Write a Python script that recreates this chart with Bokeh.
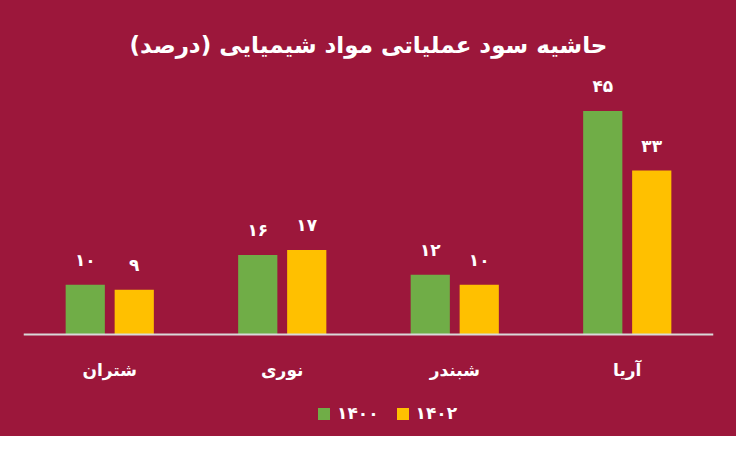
from bokeh.plotting import figure
from bokeh.models import ColumnDataSource, FactorRange, Legend, LegendItem, Title
from bokeh.transform import dodge
from bokeh.core.properties import value
from bokeh.embed import file_html
from bokeh.resources import INLINE

categories = ["شتران", "نوری", "شبندر", "آریا"]
series_names = ["۱۴۰۰", "۱۴۰۲"]
values_1400 = [10, 16, 12, 45]
values_1402 = [9, 17, 10, 33]
title_text = "حاشیه سود عملیاتی مواد شیمیایی (درصد)"

BG = "#9C173B"
GREEN = "#70AD47"
GOLD = "#FFC000"
FONT = "DejaVu Sans"

fa = str.maketrans("0123456789", "۰۱۲۳۴۵۶۷۸۹")
def fa_num(v):
    return str(v).translate(fa)

src = ColumnDataSource(dict(
    cat=categories,
    v1=values_1400,
    v2=values_1402,
    l1=[fa_num(v) for v in values_1400],
    l2=[fa_num(v) for v in values_1402],
))

p = figure(width=736, height=436, output_backend="svg", toolbar_location=None,
           x_range=FactorRange(*categories, range_padding=0), y_range=(-20.6, 55.8),
           min_border_left=23, min_border_right=23, min_border_top=57, min_border_bottom=0)
p.styles = {"background-color": BG}
p.background_fill_alpha = 0
p.border_fill_alpha = 0
p.outline_line_color = None
p.grid.grid_line_color = None
p.yaxis.visible = False

p.title = Title(text=title_text, align="center", text_font_size="23px",
                text_color="white", text_font=FONT, text_font_style="bold",
                offset=0, standoff=0)

off = 0.142
w = 40 / 176
r1 = p.vbar(x=dodge("cat", -off, range=p.x_range), top="v1", width=w, source=src,
            fill_color=GREEN, line_color=None)
r2 = p.vbar(x=dodge("cat", off, range=p.x_range), top="v2", width=w, source=src,
            fill_color=GOLD, line_color=None)

for col, lab, o in (("v1", "l1", -off), ("v2", "l2", off)):
    p.text(x=dodge("cat", o, range=p.x_range), y=col, text=lab, source=src,
           text_align="center", text_baseline="middle", y_offset=-25,
           text_color="white", text_font=value(FONT), text_font_style="bold",
           text_font_size="17px")

ax = p.xaxis[0]
ax.fixed_location = 0
ax.axis_line_color = "#D9D9D9"
ax.axis_line_width = 2
ax.major_tick_line_color = None
ax.minor_tick_line_color = None
ax.major_label_text_color = "white"
ax.major_label_text_font = FONT
ax.major_label_text_font_style = "bold"
ax.major_label_text_font_size = "17px"
ax.major_label_standoff = 20

legend = Legend(items=[LegendItem(label=series_names[0], renderers=[r1]),
                       LegendItem(label=series_names[1], renderers=[r2])],
                orientation="horizontal", location=(293, 13),
                background_fill_alpha=0, border_line_color=None,
                label_text_color="white", label_text_font=FONT,
                label_text_font_style="bold", label_text_font_size="17px",
                glyph_width=15, glyph_height=15, spacing=16, margin=0, padding=4,
                label_standoff=6)
p.add_layout(legend)

open("out.html", "w").write(file_html(p, INLINE))
